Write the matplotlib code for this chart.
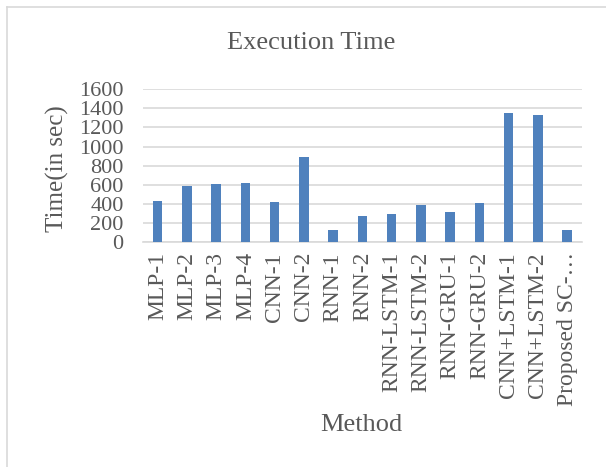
import numpy as np
import matplotlib.pyplot as plt
from matplotlib.lines import Line2D

methods = ["MLP-1", "MLP-2", "MLP-3", "MLP-4", "CNN-1", "CNN-2", "RNN-1", "RNN-2",
           "RNN-LSTM-1", "RNN-LSTM-2", "RNN-GRU-1", "RNN-GRU-2",
           "CNN+LSTM-1", "CNN+LSTM-2", "Proposed SC-\u2026"]
exec_time = [431, 591, 605, 616, 420, 890, 125, 275,
             299, 386, 313, 410, 1353, 1332, 125]
yticks = [0, 200, 400, 600, 800, 1000, 1200, 1400, 1600]

plt.rcParams['font.family'] = ['Liberation Serif', 'DejaVu Serif']
text_col = "#595959"

fig = plt.figure(figsize=(6.06, 4.67), dpi=100)
ax = fig.add_axes([0.236, 0.481, 0.724, 0.328])

x = np.arange(len(methods))
ax.bar(x, exec_time, width=0.32, color="#4f81bd", zorder=3)

ax.set_xlim(-0.5, len(methods) - 0.5)
ax.set_ylim(0, 1600)
ax.set_yticks(yticks)
ax.set_yticklabels([str(v) for v in yticks])
ax.set_xticks(x)
ax.set_xticklabels(methods, rotation=90)
ax.tick_params(axis='both', length=0, colors=text_col)
ax.tick_params(axis='x', labelsize=17, pad=7)
ax.tick_params(axis='y', labelsize=16, pad=14)

ax.grid(axis='y', color="#d9d9d9", linewidth=1.2, zorder=0)
for s in ["top", "right", "left"]:
    ax.spines[s].set_visible(False)
ax.spines["bottom"].set_color("#d9d9d9")
ax.spines["bottom"].set_linewidth(1.2)

fig.text(0.513, 0.908, "Execution Time", ha='center', va='center',
         fontsize=19, color=text_col)
fig.text(0.094, 0.639, "Time(in sec)", ha='center', va='center',
         rotation=90, fontsize=18, color=text_col)
fig.text(0.597, 0.09, "Method", ha='center', va='center',
         fontsize=19, color=text_col)

# chart frame, only top and left edges fall inside the image
fig.add_artist(Line2D([0.011, 0.011], [0.0, 0.985], transform=fig.transFigure,
                      color="#d9d9d9", linewidth=1.2))
fig.add_artist(Line2D([0.011, 1.0], [0.985, 0.985], transform=fig.transFigure,
                      color="#d9d9d9", linewidth=1.2))

fig.savefig("out.png", dpi=100)
